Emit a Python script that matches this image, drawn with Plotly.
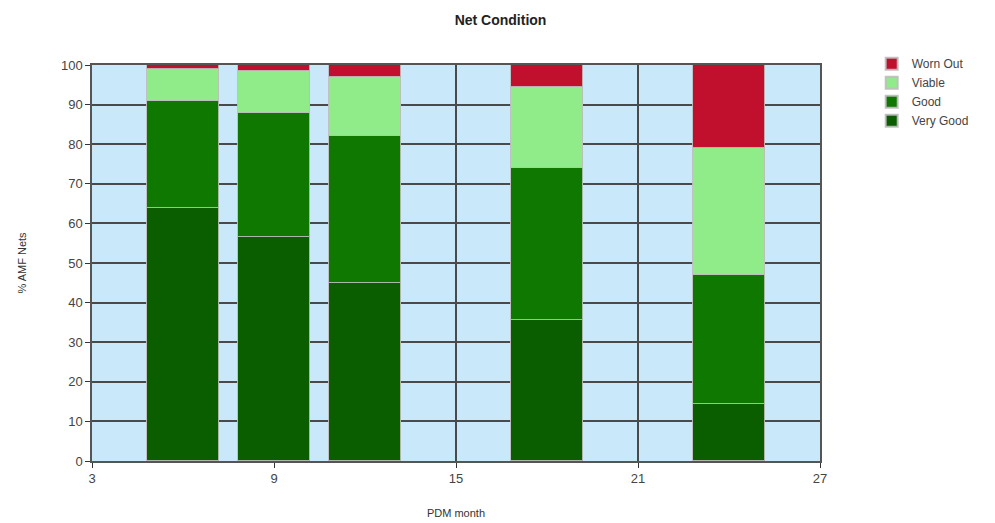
import plotly.graph_objects as go

months = [6, 9, 12, 18, 24]
very_good = [64, 56.5, 45, 35.5, 14.5]
good = [27, 31.5, 37, 38.5, 32.5]
viable = [8, 10.5, 15, 20.5, 32]
worn_out = [1, 1.5, 3, 5.5, 21]

series = [
    ("Very Good", very_good, "#0B5E00"),
    ("Good", good, "#0F7800"),
    ("Viable", viable, "#90EC88"),
    ("Worn Out", worn_out, "#C0102E"),
]

fig = go.Figure()
for name, vals, col in series:
    fig.add_trace(go.Bar(
        x=months, y=vals, name=name, width=2.4,
        marker=dict(color=col, line=dict(color="rgba(190,190,190,0.9)", width=1)),
    ))

axis_common = dict(
    showline=True, linecolor="#555555", linewidth=1.5, mirror=True,
    gridcolor="#4a4a4a", gridwidth=1.5,
    ticks="outside", ticklen=5, tickcolor="#333333",
    tickfont=dict(family="Arial, Liberation Sans", size=13, color="#444444"),
    zeroline=False, automargin=False,
)

fig.update_layout(
    barmode="stack",
    width=995, height=523,
    margin=dict(l=84, r=183, t=57, b=70),
    paper_bgcolor="white",
    plot_bgcolor="#C9E8F9",
    title=dict(text="<b>Net Condition</b>", x=0.495, xanchor="center", y=0.977, yanchor="middle",
               automargin=False,
               font=dict(family="Arial, Liberation Sans", size=14, color="#222222")),
    xaxis=dict(range=[3, 27], tick0=3, dtick=6,
               title=dict(text="PDM month", standoff=24,
                          font=dict(family="Arial, Liberation Sans", size=11, color="#333333")),
               **axis_common),
    yaxis=dict(range=[0, 100], dtick=10,
               title=dict(text="% AMF Nets", standoff=32,
                          font=dict(family="Arial, Liberation Sans", size=11, color="#333333")),
               **axis_common),
    legend=dict(x=1.071, y=1.04, xanchor="left", yanchor="top",
                font=dict(family="Arial, Liberation Sans", size=12, color="#444444"),
                tracegroupgap=0, itemsizing="constant", itemwidth=30),
    bargap=0,
)

fig.write_html("out.html")
